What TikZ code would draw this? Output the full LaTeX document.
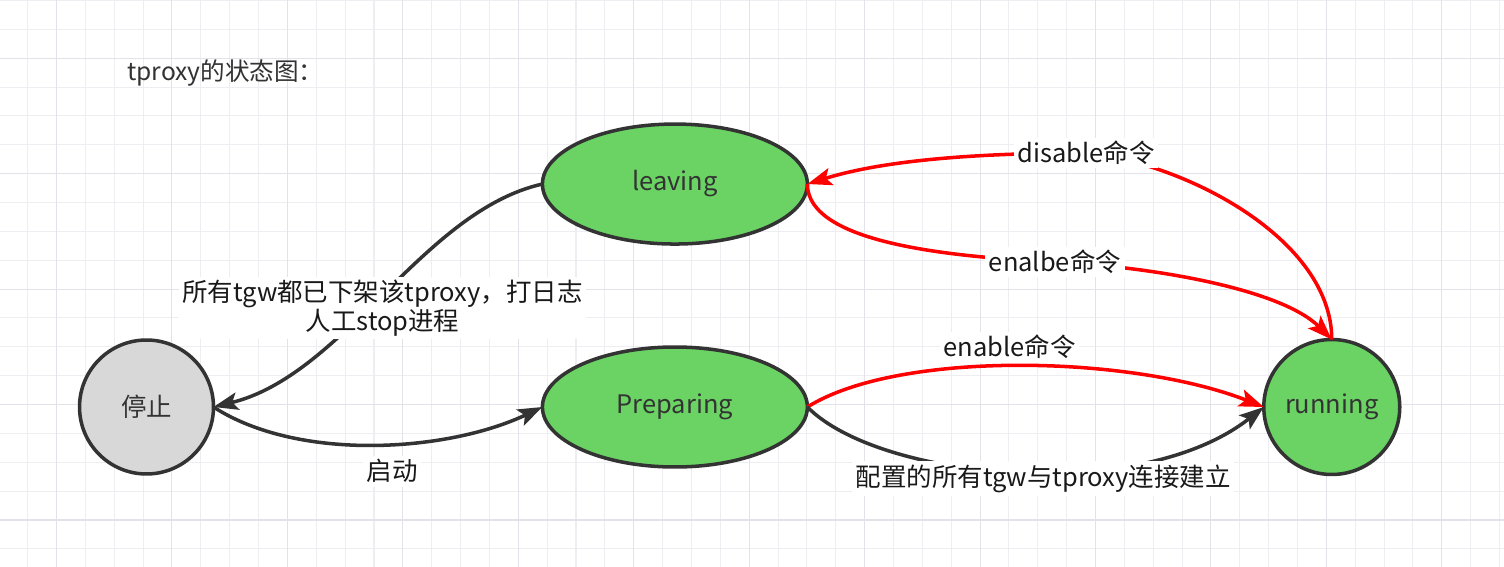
\documentclass[tikz,border=0pt]{standalone}
\usepackage{fontspec}
\newfontfamily\cjk{Noto Sans CJK SC}
\usetikzlibrary{positioning, shapes.geometric, arrows.meta}

\definecolor{stategreen}{RGB}{106,211,100}
\definecolor{stopgray}{RGB}{216,216,216}
\definecolor{edgegray}{RGB}{51,51,51}
\definecolor{gridminor}{RGB}{237,237,242}
\definecolor{gridmajor}{RGB}{226,226,232}

\begin{document}
\begin{tikzpicture}[
    x=0.02cm, y=-0.02cm,
% states of the tproxy
    state/.style={
        draw=edgegray,
        line width=2pt,
        inner sep=0pt,
        outer sep=0pt,
        text=edgegray,
        font=\cjk\fontsize{14.5}{17}\selectfont
        },
    lbl/.style={
        fill=white,
        inner sep=2pt,
        text=black!90,
        font=\cjk\fontsize{14.5}{16}\selectfont
        },
    blackarr/.style={draw=edgegray, line width=2pt, -{Stealth[length=14pt,width=10pt,inset=3pt]}},
    redarr/.style={draw=red, line width=2pt, -{Stealth[length=14pt,width=10pt,inset=3pt]}}
]
\useasboundingbox (0,0) rectangle (1504,567);
\fill[white] (0,0) rectangle (1504,567);

% grid
\foreach \i in {1,...,52}
    \draw[gridminor, line width=0.6pt] ({-1.2+28.86*\i},0) -- ++(0,567);
\foreach \j in {0,...,19}
    \draw[gridminor, line width=0.6pt] (0,{0.5+28.86*\j}) -- ++(1504,0);
\foreach \i in {2,6,...,50}
    \draw[gridmajor, line width=0.6pt] ({-1.2+28.86*\i},0) -- ++(0,567);
\foreach \j in {2,6,...,18}
    \draw[gridmajor, line width=0.6pt] (0,{0.5+28.86*\j}) -- ++(1504,0);

\node[anchor=west, text=edgegray, font=\cjk\fontsize{14}{16}\selectfont] (title) at (121,73) {tproxy的状态图：};

\node[state, circle, fill=stopgray, minimum size=2.68cm] (stop) at (146.5,407) {停止};
\node[state, ellipse, fill=stategreen, minimum width=5.3cm, minimum height=2.4cm, right=6.58cm of stop] (prep) {Preparing};
\node[state, ellipse, fill=stategreen, minimum width=5.3cm, minimum height=2.4cm, above=2.06cm of prep] (leaving) {leaving};
\node[state, ellipse, fill=stategreen, minimum width=2.72cm, minimum height=2.7cm, right=9.13cm of prep] (running) {running};

\draw[blackarr] (leaving.west) .. controls +(-120,27) and +(131,-32) .. (stop.east)
    node[lbl, align=center, pos=0.55, xshift=9pt] {所有tgw都已下架该tproxy，打日志\\人工stop进程};
\draw[blackarr] (stop.east) .. controls +(85,55) and +(-95,45) .. (prep.west)
    node[lbl, pos=0.55, below=6pt] {启动};

\draw[redarr] (prep.east) .. controls +(91,-57) and +(-133,-52) .. (running.west)
    node[lbl, pos=0.48, above=1pt] {enable命令};
\draw[blackarr] (prep.east) .. controls +(72,73) and +(-124,98) .. (running.west)
    node[lbl, pos=0.55, yshift=-4pt] {配置的所有tgw与tproxy连接建立};

\draw[redarr] (leaving.east) .. controls +(0,60) and +(-100,-5) .. (1055,262)
    node[lbl] {enalbe命令} .. controls +(100,5) and +(-50,-50) .. (running.north);
\draw[redarr] (running.north) .. controls +(0,-100) and +(100,10) .. (1086,153)
    node[lbl] {disable命令} .. controls +(-100,0) and +(80,-25) .. (leaving.east);

\end{tikzpicture}
\end{document}
